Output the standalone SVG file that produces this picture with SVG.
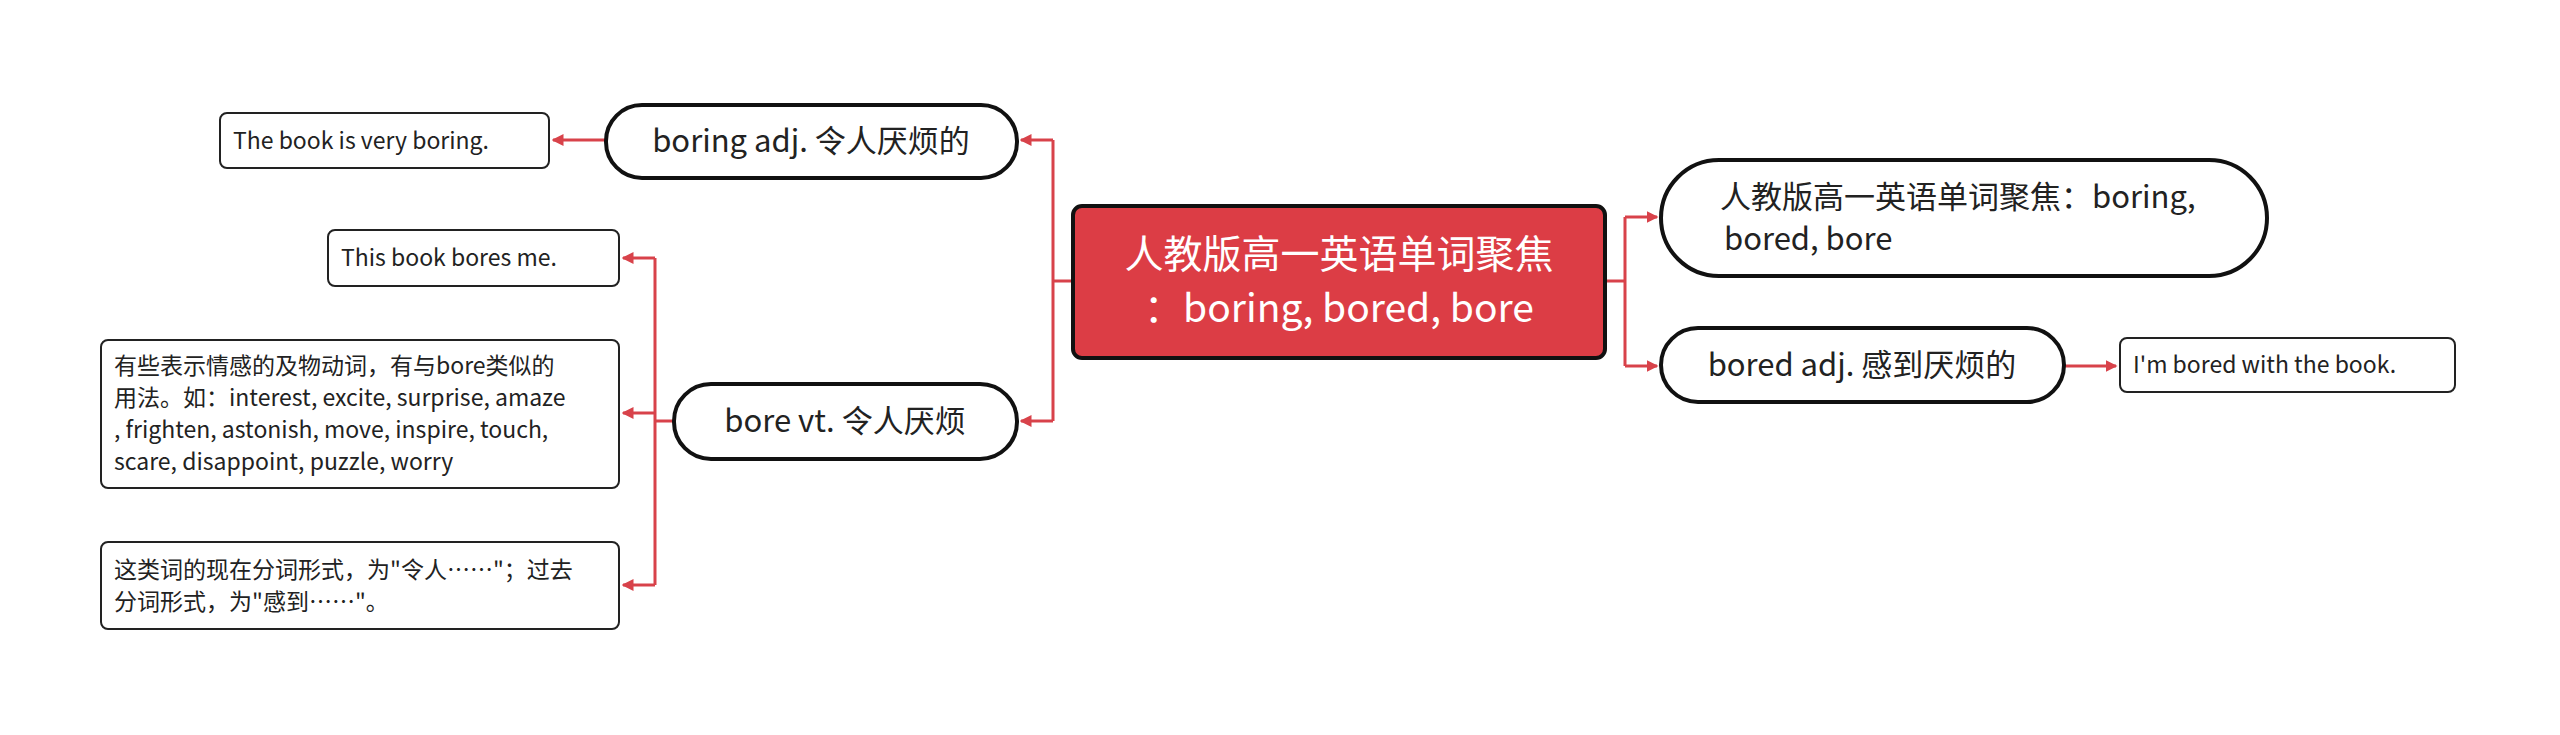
<svg xmlns="http://www.w3.org/2000/svg" width="2560" height="735" viewBox="0 0 2560 735">
<defs>
<marker id="ah" markerWidth="4" markerHeight="4" refX="3.5" refY="2" orient="auto" markerUnits="strokeWidth"><path d="M0,0 L4,2 L0,4 z" fill="#D8424A"/></marker>
<style>
text{font-family:"Noto Sans CJK SC","Liberation Sans",sans-serif;fill:#222}
.pill{fill:#fff;stroke:#111;stroke-width:4}
.box{fill:#fff;stroke:#222;stroke-width:2}
.c{fill:none;stroke:#D8424A;stroke-width:3}
.a{marker-end:url(#ah)}
.big{font-size:31px}
.sm{font-size:23px}
</style>
</defs>
<rect width="2560" height="735" fill="#fff"/>
<g id="connectors">
<path class="c" d="M1073,281 H1053 M1053,140 V421"/>
<path class="c a" d="M1053,140 H1021"/>
<path class="c a" d="M1053,421 H1021"/>
<path class="c" d="M1605,281 H1625 M1625,217 V366"/>
<path class="c a" d="M1625,217 H1657"/>
<path class="c a" d="M1625,366 H1657"/>
<path class="c a" d="M2064,366 H2116"/>
<path class="c a" d="M606,140 H553"/>
<path class="c" d="M674,421 H655 M655,258 V585"/>
<path class="c a" d="M655,258 H623"/>
<path class="c a" d="M655,413 H623"/>
<path class="c a" d="M655,585 H623"/>
</g>
<g id="root">
<rect x="1073" y="206" width="532" height="152" rx="9" fill="#DC3D45" stroke="#111" stroke-width="4"/>
<text x="1339" y="268" text-anchor="middle" style="fill:#fff;font-size:39px">人教版高一英语单词聚焦</text>
<text x="1339" y="322" text-anchor="middle" style="fill:#fff;font-size:39px">：boring, bored, bore</text>
</g>
<g id="title2">
<rect class="pill" x="1661" y="160" width="606" height="116" rx="58"/>
<text class="big" x="1720" y="208">人教版高一英语单词聚焦：boring,</text>
<text class="big" x="1724" y="250">bored, bore</text>
</g>
<g id="bored">
<rect class="pill" x="1661" y="328" width="403" height="74" rx="37"/>
<text class="big" x="1862" y="376" text-anchor="middle">bored adj. 感到厌烦的</text>
</g>
<g id="bored-ex">
<rect class="box" x="2120" y="338" width="335" height="54" rx="7"/>
<text class="sm" x="2133" y="373">I'm bored with the book.</text>
</g>
<g id="boring">
<rect class="pill" x="606" y="105" width="411" height="73" rx="36"/>
<text class="big" x="811" y="152" text-anchor="middle">boring adj. 令人厌烦的</text>
</g>
<g id="boring-ex">
<rect class="box" x="220" y="113" width="329" height="55" rx="7"/>
<text class="sm" x="233" y="149">The book is very boring.</text>
</g>
<g id="bore">
<rect class="pill" x="674" y="384" width="343" height="75" rx="37"/>
<text class="big" x="845" y="432" text-anchor="middle">bore vt. 令人厌烦</text>
</g>
<g id="bore-ex1">
<rect class="box" x="328" y="230" width="291" height="56" rx="7"/>
<text class="sm" x="341" y="266">This book bores me.</text>
</g>
<g id="bore-ex2">
<rect class="box" x="101" y="340" width="518" height="148" rx="7"/>
<text class="sm" x="114" y="374">有些表示情感的及物动词，有与bore类似的</text>
<text class="sm" x="114" y="406">用法。如：interest, excite, surprise, amaze</text>
<text class="sm" x="114" y="438">, frighten, astonish, move, inspire, touch,</text>
<text class="sm" x="114" y="470">scare, disappoint, puzzle, worry</text>
</g>
<g id="bore-ex3">
<rect class="box" x="101" y="542" width="518" height="87" rx="7"/>
<text class="sm" x="114" y="578">这类词的现在分词形式，为"令人……"；过去</text>
<text class="sm" x="114" y="610">分词形式，为"感到……"。</text>
</g>
</svg>
